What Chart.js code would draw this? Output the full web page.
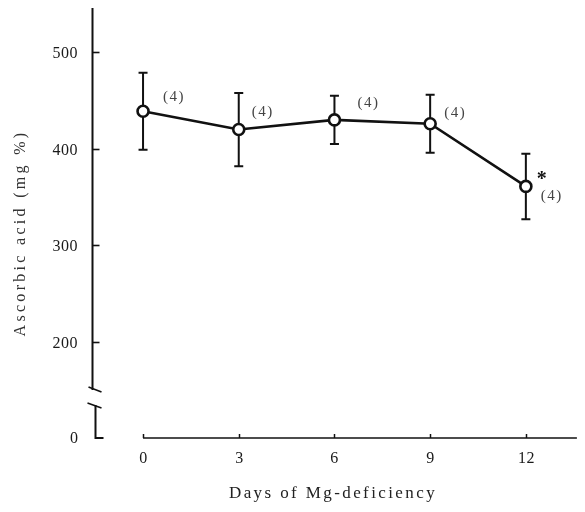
<!DOCTYPE html>
<html>
<head>
<meta charset="utf-8">
<script src="https://cdn.jsdelivr.net/npm/chart.js@4/dist/chart.umd.min.js"></script>
<style>
  html, body { margin: 0; padding: 0; background: #fff; }
  #wrap { width: 585px; height: 512px; }
</style>
</head>
<body>
<div id="wrap"><canvas id="chart" width="585" height="512"></canvas></div>
<script>
// Ascorbic acid level over days of Mg-deficiency (mean ± SD, n in brackets)
const days = [0, 3, 6, 9, 12];
const ascorbicMean = [439, 420, 430, 426, 361];
const ascorbicSD = [40, 38, 25, 30, 34];
const sampleSize = [4, 4, 4, 4, 4];
const significant = [false, false, false, false, true];

const xTickValues = [0, 3, 6, 9, 12];
const yTickValues = [200, 300, 400, 500];
// the broken y axis starts at this scale value, which carries the label "0"
const yAxisFloor = 100;
const yAxisFloorLabel = '0';

const xTitle = 'Days of Mg-deficiency';
const yTitle = 'Ascorbic acid (mg %)';

// label placement next to each point, in pixels
const countOffsets = [[31, -14], [24, -17], [34, -17], [25, -11], [26, 10]];
const starOffset = [16, -11];

const SERIF = '"Liberation Serif", "DejaVu Serif", "Times New Roman", serif';

function text(ctx, str, x, y, opts) {
  ctx.save();
  ctx.font = opts.font;
  ctx.fillStyle = opts.color || '#222';
  ctx.textAlign = opts.align || 'center';
  ctx.textBaseline = opts.baseline || 'middle';
  if ('letterSpacing' in ctx) ctx.letterSpacing = (opts.spacing || 0) + 'px';
  ctx.fillText(str, x, y);
  ctx.restore();
}

const axesPlugin = {
  id: 'paperAxes',
  beforeDatasetsDraw(chart) {
    const { ctx } = chart;
    const xs = chart.scales.x, ys = chart.scales.y;
    const ca = chart.chartArea;
    ctx.save();
    ctx.strokeStyle = '#111';
    ctx.lineCap = 'butt';

    // y axis, upper part with break mark
    const ax = ca.left + 0.5;
    const breakTop = ys.getPixelForValue(yAxisFloor) - 48;
    ctx.lineWidth = 2;
    ctx.beginPath();
    ctx.moveTo(ax, ca.top);
    ctx.lineTo(ax, breakTop);
    ctx.stroke();
    ctx.lineWidth = 1.6;
    ctx.beginPath();
    ctx.moveTo(ax - 4, breakTop - 3);
    ctx.lineTo(ax + 9, breakTop + 2);
    ctx.stroke();

    // lower part of the broken y axis
    const baseY = ys.getPixelForValue(yAxisFloor);
    const lx = ax + 3;
    ctx.beginPath();
    ctx.moveTo(ax - 5, baseY - 35);
    ctx.lineTo(ax + 9, baseY - 30);
    ctx.stroke();
    ctx.lineWidth = 2;
    ctx.beginPath();
    ctx.moveTo(lx, baseY - 33);
    ctx.lineTo(lx, baseY);
    ctx.lineTo(lx + 8, baseY);
    ctx.stroke();

    // y ticks (pointing inward) and labels
    ctx.lineWidth = 1.6;
    yTickValues.forEach(v => {
      const py = Math.round(ys.getPixelForValue(v)) + 0.5;
      ctx.beginPath();
      ctx.moveTo(ax, py);
      ctx.lineTo(ax + 7, py);
      ctx.stroke();
      text(ctx, String(v), 78, py + 1, { font: '16px ' + SERIF, align: 'right', color: '#1a1a1a', spacing: 0.5 });
    });
    text(ctx, yAxisFloorLabel, 78, baseY + 1, { font: '16px ' + SERIF, align: 'right', color: '#1a1a1a' });

    // x axis, starting at day 0
    const x0 = xs.getPixelForValue(xTickValues[0]);
    ctx.lineWidth = 1.5;
    ctx.beginPath();
    ctx.moveTo(x0, baseY);
    ctx.lineTo(ca.right, baseY);
    ctx.stroke();
    xTickValues.forEach(v => {
      const px = Math.round(xs.getPixelForValue(v)) + 0.5;
      ctx.beginPath();
      ctx.moveTo(px, baseY);
      ctx.lineTo(px, baseY - 4);
      ctx.stroke();
      text(ctx, String(v), px, baseY + 21, { font: '16px ' + SERIF, color: '#1a1a1a', spacing: 0.5 });
    });

    // axis titles
    text(ctx, xTitle, 333, 494, { font: '17px ' + SERIF, color: '#222', spacing: 2.4 });
    ctx.save();
    ctx.translate(21, 233);
    ctx.rotate(-Math.PI / 2);
    text(ctx, yTitle, 0, 0, { font: '16px ' + SERIF, color: '#333', spacing: 3.3 });
    ctx.restore();

    // error bars (mean ± SD)
    ctx.lineWidth = 2;
    days.forEach((d, i) => {
      const px = xs.getPixelForValue(d);
      const top = ys.getPixelForValue(ascorbicMean[i] + ascorbicSD[i]);
      const bot = ys.getPixelForValue(ascorbicMean[i] - ascorbicSD[i]);
      ctx.beginPath();
      ctx.moveTo(px, top);
      ctx.lineTo(px, bot);
      ctx.moveTo(px - 4.5, top);
      ctx.lineTo(px + 4.5, top);
      ctx.moveTo(px - 4.5, bot);
      ctx.lineTo(px + 4.5, bot);
      ctx.stroke();
    });
    ctx.restore();
  },
  afterDatasetsDraw(chart) {
    const { ctx } = chart;
    const xs = chart.scales.x, ys = chart.scales.y;
    days.forEach((d, i) => {
      const px = xs.getPixelForValue(d);
      const py = ys.getPixelForValue(ascorbicMean[i]);
      const [ox, oy] = countOffsets[i];
      text(ctx, '(' + sampleSize[i] + ')', px + ox, py + oy, { font: '15px ' + SERIF, color: '#444', spacing: 1.5 });
      if (significant[i]) {
        text(ctx, '*', px + starOffset[0], py + starOffset[1] + 4, { font: 'bold 20px ' + SERIF, color: '#111' });
      }
    });
  }
};

new Chart(document.getElementById('chart'), {
  type: 'line',
  data: {
    datasets: [{
      data: days.map((d, i) => ({ x: d, y: ascorbicMean[i] })),
      borderColor: '#111',
      borderWidth: 2.6,
      pointRadius: 5.5,
      pointBorderWidth: 2.6,
      pointBackgroundColor: '#fff',
      pointBorderColor: '#111',
      tension: 0
    }]
  },
  options: {
    responsive: false,
    animation: false,
    devicePixelRatio: 1,
    layout: { padding: { left: 92, right: 5, top: 8, bottom: 74 } },
    plugins: { legend: { display: false }, tooltip: { enabled: false }, title: { display: false } },
    scales: {
      x: { type: 'linear', display: false, min: -1.6, max: 13.6 },
      y: { type: 'linear', display: false, min: yAxisFloor, max: 546 }
    }
  },
  plugins: [axesPlugin]
});
</script>
</body>
</html>
